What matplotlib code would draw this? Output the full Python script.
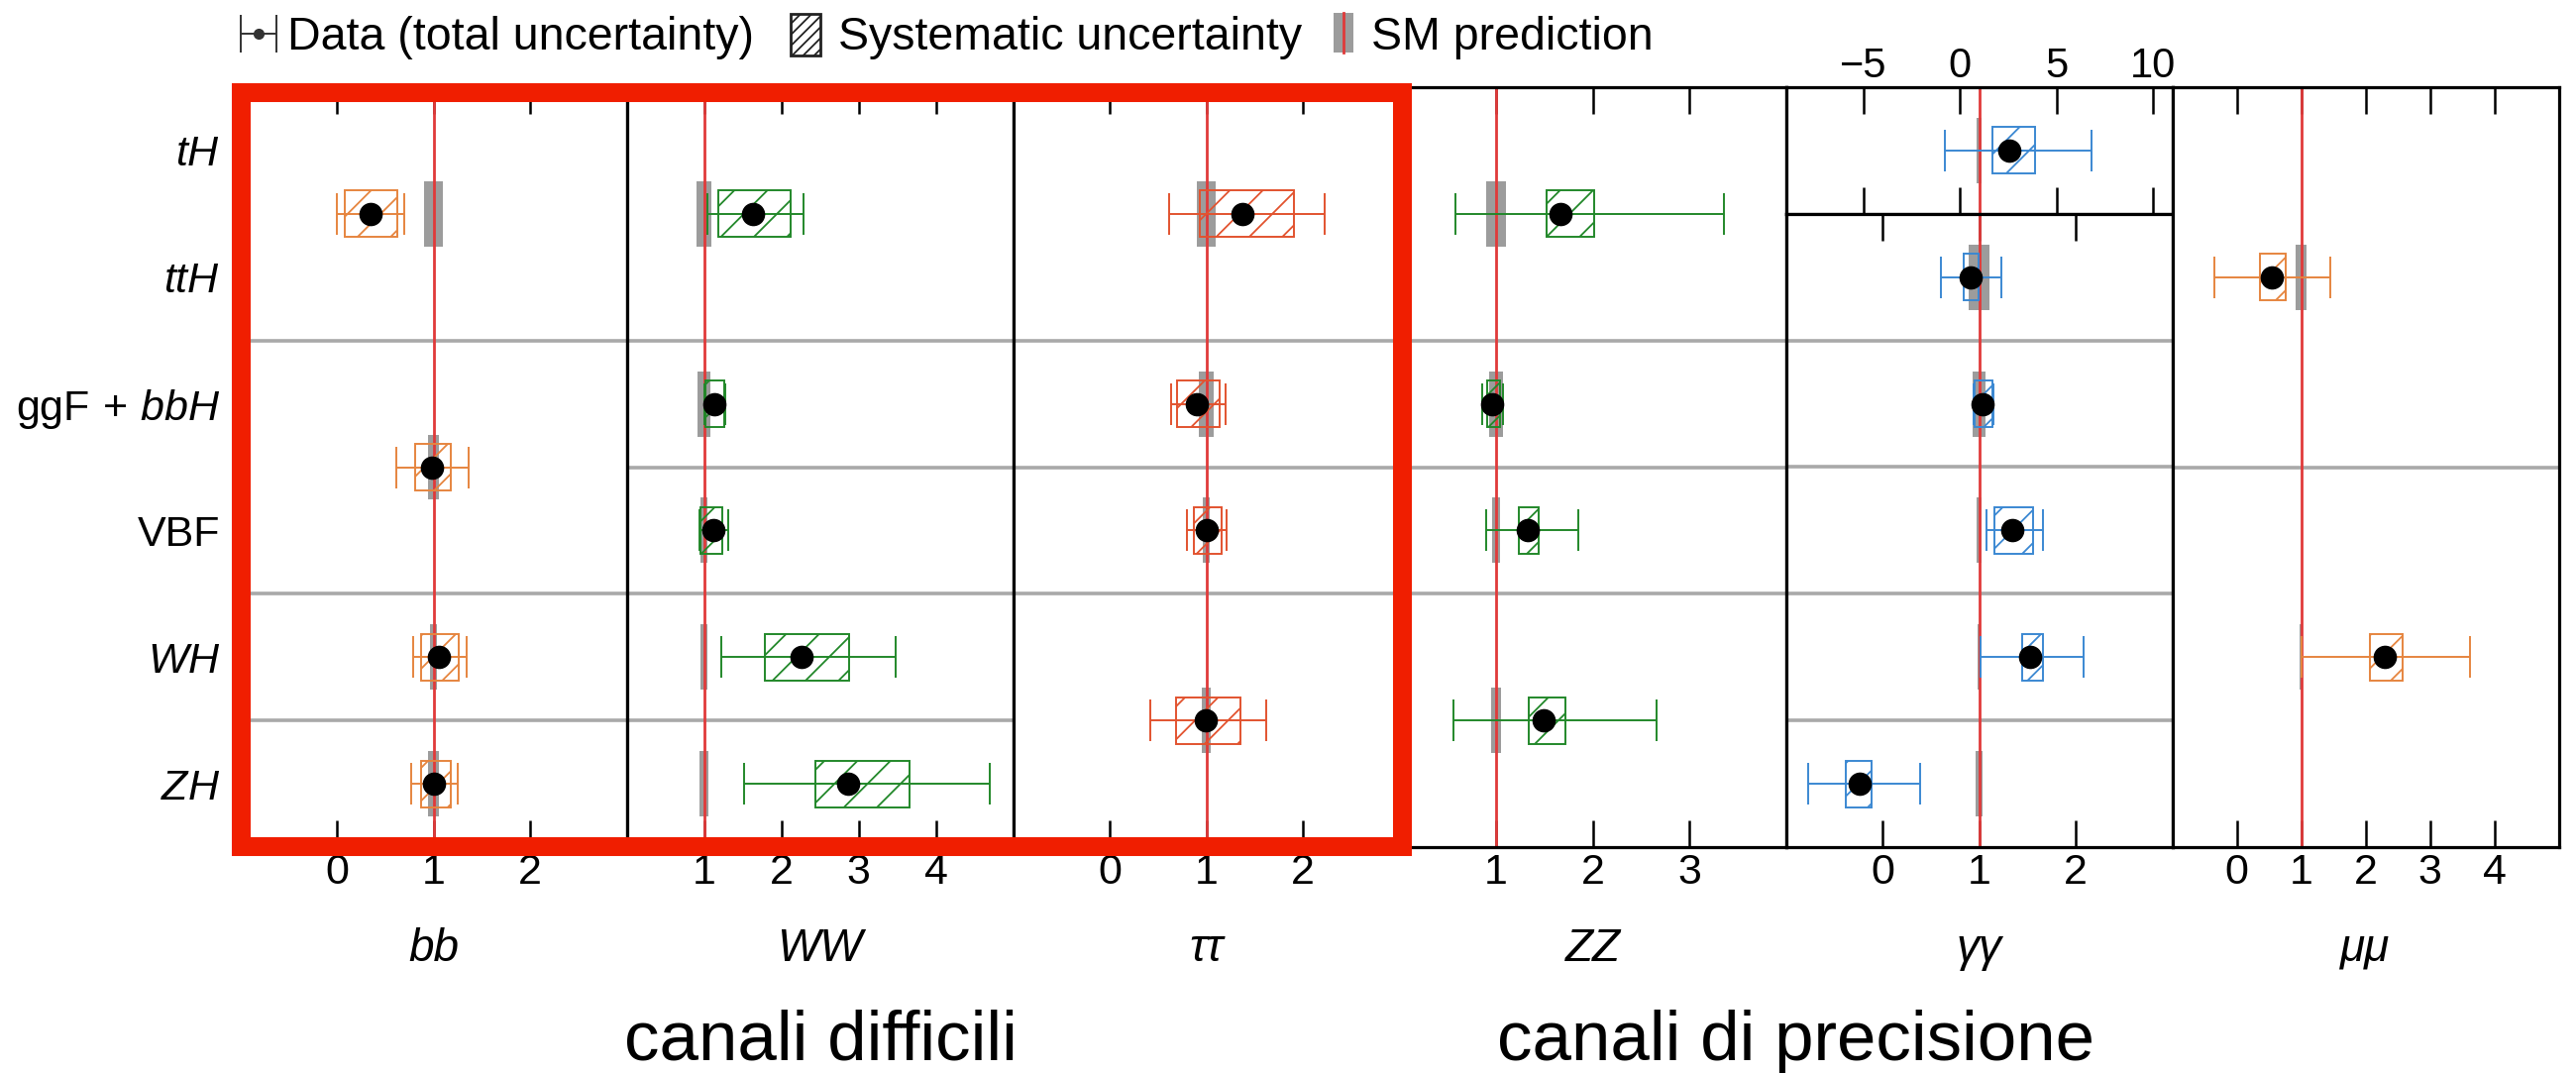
import matplotlib
matplotlib.use("Agg")
import matplotlib.pyplot as plt
from matplotlib.patches import Rectangle
import numpy as np

plt.rcParams.update({
    "font.family": ["Liberation Sans", "DejaVu Sans"],
    "mathtext.fontset": "custom",
    "mathtext.rm": "Liberation Sans",
    "mathtext.it": "Liberation Sans:italic",
    "mathtext.bf": "Liberation Sans:bold",
    "hatch.linewidth": 1.3,
})

W, H, DPI = 2600, 1083, 100

# ------------------------------------------------------------------
# Production modes (rows, top to bottom)
production_labels = [r"$tH$", r"$ttH$", r"$\mathrm{ggF}\,+\,bbH$", "VBF", r"$WH$", r"$ZH$"]

# Decay channels (columns)
channel_labels = ["bb", "WW", "ττ", "ZZ", "γγ", "μμ"]

# Signal strengths per channel: merged row ranges, central value,
# total and systematic uncertainties, SM theory half-width
bb_rows = [(0, 1), (2, 3), (4, 4), (5, 5)]
bb_mu = [0.35, 0.98, 1.06, 1.00]
bb_tot_dn = [0.35, 0.36, 0.27, 0.23]
bb_tot_up = [0.35, 0.38, 0.28, 0.25]
bb_sys_dn = [0.27, 0.17, 0.19, 0.13]
bb_sys_up = [0.28, 0.20, 0.20, 0.18]
bb_sm = [0.10, 0.06, 0.035, 0.06]

ww_rows = [(0, 1), (2, 2), (3, 3), (4, 4), (5, 5)]
ww_mu = [1.64, 1.14, 1.12, 2.26, 2.86]
ww_tot_dn = [0.60, 0.13, 0.18, 1.03, 1.34]
ww_tot_up = [0.65, 0.14, 0.20, 1.22, 1.84]
ww_sys_dn = [0.45, 0.12, 0.16, 0.47, 0.42]
ww_sys_up = [0.48, 0.12, 0.12, 0.62, 0.80]
ww_sm = [0.10, 0.08, 0.05, 0.04, 0.06]

tautau_rows = [(0, 1), (2, 2), (3, 3), (4, 5)]
tautau_mu = [1.37, 0.90, 1.00, 0.99]
tautau_tot_dn = [0.75, 0.26, 0.20, 0.57]
tautau_tot_up = [0.86, 0.30, 0.21, 0.63]
tautau_sys_dn = [0.44, 0.20, 0.13, 0.30]
tautau_sys_up = [0.54, 0.24, 0.16, 0.36]
tautau_sm = [0.10, 0.08, 0.04, 0.05]

zz_rows = [(0, 1), (2, 2), (3, 3), (4, 5)]
zz_mu = [1.67, 0.96, 1.33, 1.49]
zz_tot_dn = [1.09, 0.10, 0.43, 0.93]
zz_tot_up = [1.69, 0.11, 0.52, 1.17]
zz_sys_dn = [0.15, 0.05, 0.09, 0.15]
zz_sys_up = [0.35, 0.08, 0.11, 0.23]
zz_sm = [0.10, 0.07, 0.04, 0.05]

# gamma-gamma: tH has its own wider axis
yy_th_rows = [(0, 0)]
yy_th_mu = [2.55]
yy_th_tot_dn = [3.30]
yy_th_tot_up = [4.25]
yy_th_sys_dn = [0.85]
yy_th_sys_up = [1.35]
yy_th_sm = [0.15]

yy_rows = [(1, 1), (2, 2), (3, 3), (4, 4), (5, 5)]
yy_mu = [0.91, 1.04, 1.34, 1.53, -0.24]
yy_tot_dn = [0.31, 0.10, 0.26, 0.51, 0.53]
yy_tot_up = [0.32, 0.11, 0.32, 0.55, 0.63]
yy_sys_dn = [0.07, 0.09, 0.18, 0.08, 0.14]
yy_sys_up = [0.08, 0.10, 0.22, 0.13, 0.13]
yy_sm = [0.11, 0.07, 0.03, 0.02, 0.04]

mumu_rows = [(0, 2), (3, 5)]
mumu_mu = [0.54, 2.30]
mumu_tot_dn = [0.88, 1.30]
mumu_tot_up = [0.92, 1.33]
mumu_sys_dn = [0.18, 0.23]
mumu_sys_up = [0.22, 0.28]
mumu_sm = [0.09, 0.03]

# Axis ranges and ticks per column
bb_xlim, bb_ticks = (-1, 3), [0, 1, 2]
ww_xlim, ww_ticks = (0, 5), [1, 2, 3, 4]
tautau_xlim, tautau_ticks = (-1, 3), [0, 1, 2]
zz_xlim, zz_ticks = (0, 4), [1, 2, 3]
yy_xlim, yy_ticks = (-1, 3), [0, 1, 2]
yy_th_xlim, yy_th_ticks = (-9, 11), [-5, 0, 5, 10]
mumu_xlim, mumu_ticks = (-1, 5), [0, 1, 2, 3, 4]

# ------------------------------------------------------------------
ORANGE = "#e6853f"
GREEN = "#22882a"
TAURED = "#e2532f"
BLUE = "#3b88d2"
SM_GREY = "#9c9c9c"
SM_RED = "#e03a3a"
SEP_GREY = "#a9a9a9"
FRAME_RED = "#f01e00"

PLOT_LEFT, COL_W = 242.5, 390.0
PLOT_TOP, PLOT_BOTTOM = 88.0, 855.0
ROW_H = (PLOT_BOTTOM - PLOT_TOP) / 6

BOX_HALF = 0.184     # systematic box half-height (rows)
SM_HALF = 0.258      # SM band half-height (rows)


def fig_rect(x0, y0, x1, y1):
    return [x0 / W, 1 - y1 / H, (x1 - x0) / W, (y1 - y0) / H]


def style_axes(ax, xlim, ticks, ylim, labelsize=31, top_labels=False, pad=4):
    ax.set_xlim(*xlim)
    ax.set_ylim(*ylim)
    ax.set_xticks(ticks)
    ax.set_xticklabels([f"{t:g}".replace("-", "\u2212") for t in ticks])
    ax.tick_params(axis="x", direction="in", length=19.5, width=1.8,
                   top=True, bottom=True, labeltop=top_labels,
                   labelbottom=not top_labels, labelsize=labelsize, pad=pad)
    ax.tick_params(axis="y", left=False, right=False, labelleft=False)
    for sp in ax.spines.values():
        sp.set_linewidth(2.3)
        sp.set_color("black")
        sp.set_zorder(8)


def draw_cells(ax, rows, mu, tot_dn, tot_up, sys_dn, sys_up, sm, color):
    for (r0, r1), m, tdn, tup, sdn, sup, s in zip(rows, mu, tot_dn, tot_up,
                                                   sys_dn, sys_up, sm):
        y = (r0 + r1 + 1) / 2
        ax.add_patch(Rectangle((1 - s, y - SM_HALF), 2 * s, 2 * SM_HALF,
                               facecolor=SM_GREY, edgecolor="none", zorder=2))
        ax.add_patch(Rectangle((m - sdn, y - BOX_HALF), sdn + sup, 2 * BOX_HALF,
                               facecolor="none", edgecolor=color, hatch="/",
                               lw=1.4, zorder=4))
        ax.errorbar([m], [y], xerr=[[tdn], [tup]], fmt="none", ecolor=color,
                    elinewidth=1.4, capsize=14.8, capthick=1.4, zorder=5)
        ax.plot([m], [y], "o", color="black", ms=16, mec="black", zorder=6)
    # separators between merged groups
    for (r0, _r1) in rows[1:]:
        ax.axhline(r0, color=SEP_GREY, lw=2.6, zorder=1)
    ax.axvline(1, color=SM_RED, lw=2.0, zorder=3)


fig = plt.figure(figsize=(W / DPI, H / DPI), dpi=DPI)

columns = [
    (bb_rows, bb_mu, bb_tot_dn, bb_tot_up, bb_sys_dn, bb_sys_up, bb_sm, ORANGE, bb_xlim, bb_ticks),
    (ww_rows, ww_mu, ww_tot_dn, ww_tot_up, ww_sys_dn, ww_sys_up, ww_sm, GREEN, ww_xlim, ww_ticks),
    (tautau_rows, tautau_mu, tautau_tot_dn, tautau_tot_up, tautau_sys_dn, tautau_sys_up, tautau_sm,
     TAURED, tautau_xlim, tautau_ticks),
    (zz_rows, zz_mu, zz_tot_dn, zz_tot_up, zz_sys_dn, zz_sys_up, zz_sm, GREEN, zz_xlim, zz_ticks),
    None,
    (mumu_rows, mumu_mu, mumu_tot_dn, mumu_tot_up, mumu_sys_dn, mumu_sys_up, mumu_sm,
     ORANGE, mumu_xlim, mumu_ticks),
]

axes = []
for i, spec in enumerate(columns):
    x0 = PLOT_LEFT + i * COL_W
    x1 = x0 + COL_W
    if spec is None:
        # gamma-gamma column: separate tH panel on top
        ax_th = fig.add_axes(fig_rect(x0, PLOT_TOP, x1, PLOT_TOP + ROW_H))
        style_axes(ax_th, yy_th_xlim, yy_th_ticks, (1, 0), labelsize=30,
                   top_labels=True, pad=1)
        draw_cells(ax_th, yy_th_rows, yy_th_mu, yy_th_tot_dn, yy_th_tot_up,
                   yy_th_sys_dn, yy_th_sys_up, yy_th_sm, BLUE)
        ax = fig.add_axes(fig_rect(x0, PLOT_TOP + ROW_H, x1, PLOT_BOTTOM))
        style_axes(ax, yy_xlim, yy_ticks, (6, 1))
        draw_cells(ax, yy_rows, yy_mu, yy_tot_dn, yy_tot_up, yy_sys_dn,
                   yy_sys_up, yy_sm, BLUE)
    else:
        rows, mu, tdn, tup, sdn, sup, sm, color, xlim, ticks = spec
        ax = fig.add_axes(fig_rect(x0, PLOT_TOP, x1, PLOT_BOTTOM))
        style_axes(ax, xlim, ticks, (6, 0))
        draw_cells(ax, rows, mu, tdn, tup, sdn, sup, sm, color)
    axes.append(ax)
    fig.text((x0 + x1) / 2 / W, 1 - 970 / H, channel_labels[i], ha="center",
             va="baseline", fontsize=33, style="italic")

# Production-mode labels on the first column
ax0 = axes[0]
ax0.set_yticks(np.arange(6) + 0.5)
ax0.set_yticklabels(production_labels)
ax0.tick_params(axis="y", left=True, length=0, labelleft=True, labelsize=31, pad=14.5)

# Frame around the first three channels
fig.add_artist(Rectangle((242.5 / W, 1 - 853.5 / H), (1415 - 242.5) / W,
                         (853.5 - 92.5) / H, transform=fig.transFigure,
                         fill=False, edgecolor=FRAME_RED, lw=13.7,
                         joinstyle="miter", zorder=20))

# Key along the top edge (pixel coordinates)
key = fig.add_axes([0, 0, 1, 1], zorder=-1)
key.set_xlim(0, W)
key.set_ylim(H, 0)
key.axis("off")
key.errorbar([261], [34], xerr=[[18]], fmt="o", ms=7, color="#333333",
             ecolor="#333333", elinewidth=1.4, capsize=13.7, capthick=1.4)
key.text(290, 50, "Data (total uncertainty)", fontsize=33.5, va="baseline")
key.add_patch(Rectangle((798, 14), 30, 42, facecolor="white", edgecolor="#222222",
                        hatch="///", lw=2.0))
key.text(846, 50, "Systematic uncertainty", fontsize=33.5, va="baseline")
key.add_patch(Rectangle((1346, 13), 20, 40, facecolor=SM_GREY, edgecolor="none"))
key.plot([1356, 1356], [13, 53], color=SM_RED, lw=2.0)
key.text(1384, 50, "SM prediction", fontsize=33.5, va="baseline")

# Group captions
fig.text(828 / W, 1 - 1070 / H, "canali difficili", ha="center", va="baseline",
         fontsize=51)
fig.text(1812 / W, 1 - 1070 / H, "canali di precisione", ha="center",
         va="baseline", fontsize=51)

fig.savefig("out.png", dpi=DPI, facecolor="white")
